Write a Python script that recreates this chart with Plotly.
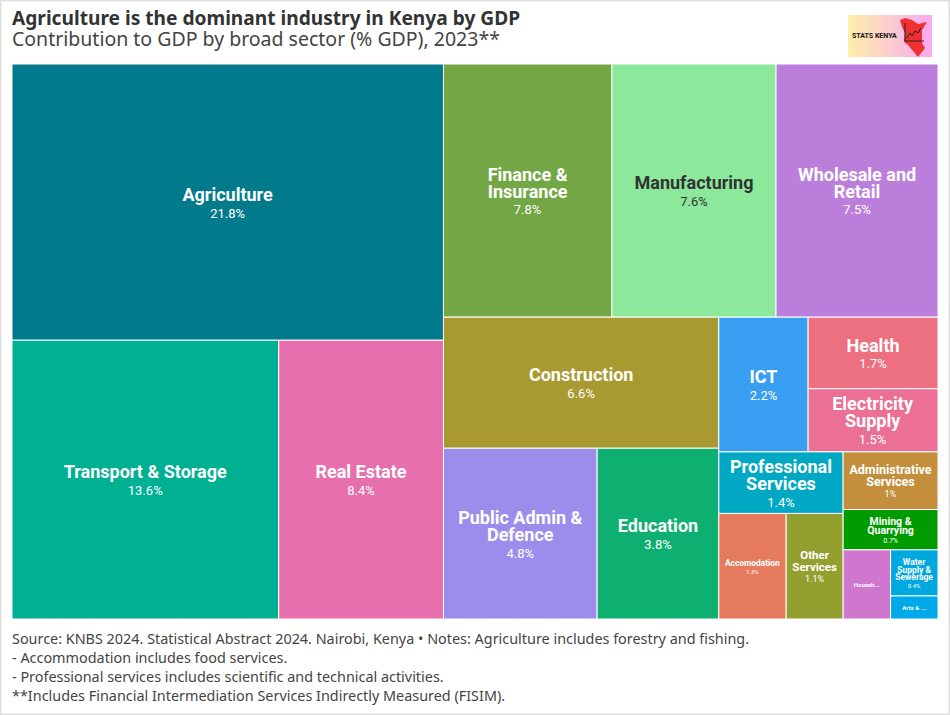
import plotly.graph_objects as go

W, H = 950, 715
L, T, R, B = 12, 64, 938, 619  # treemap box in the page

# ---- data ----
sectors = ["Agriculture", "Transport & Storage", "Real Estate", "Finance & Insurance", "Manufacturing",
           "Wholesale and Retail", "Construction", "Public Admin & Defence", "Education", "ICT", "Health",
           "Electricity Supply", "Professional Services", "Accomodation", "Other Services",
           "Administrative Services", "Mining & Quarrying", "Households", "Water Supply & Sewerage",
           "Arts & Entertainment"]
gdp_share = [21.8, 13.6, 8.4, 7.8, 7.6, 7.5, 6.6, 4.8, 3.8, 2.2, 1.7, 1.5, 1.4, 1.3, 1.1, 1.0, 0.7, 0.6, 0.4, 0.2]
shown_share = ["21.8%", "13.6%", "8.4%", "7.8%", "7.6%", "7.5%", "6.6%", "4.8%", "3.8%", "2.2%", "1.7%",
               "1.5%", "1.4%", "1.3%", "1.1%", "1%", "0.7%", "", "0.4%", ""]
shown_label = ["Agriculture", "Transport & Storage", "Real Estate", "Finance &<br>Insurance", "Manufacturing",
               "Wholesale and<br>Retail", "Construction", "Public Admin &<br>Defence", "Education", "ICT", "Health",
               "Electricity<br>Supply", "Professional<br>Services", "Accomodation", "Other<br>Services",
               "Administrative<br>Services", "Mining &<br>Quarrying", "Househ...", "Water<br>Supply &<br>Sewerage",
               "Arts & ..."]
colors = ["#017b8c", "#00b093", "#e76fad", "#73a644", "#8ce99c", "#bb7fdb", "#a89a30", "#9c8ded", "#0db070",
          "#379ef2", "#ec7080", "#ec6f95", "#00a8c4", "#e57a5c", "#93a030", "#c48f3c", "#009b00", "#cf76cf",
          "#00a8e0", "#00a8e8"]
label_sizes = [18, 18, 18, 18, 18, 18, 18, 18, 18, 18, 18, 18, 18, 8.4, 11.5, 12.5, 10.5, 6, 8.5, 6]
pct_sizes = [13, 13, 13, 13, 13, 13, 13, 13, 13, 13, 13, 13, 13, 6, 9, 9, 7, 6, 6, 6]
text_colors = ["#333333" if s == "Manufacturing" else "#ffffff" for s in sectors]

title = "Agriculture is the dominant industry in Kenya by GDP"
subtitle = "Contribution to GDP by broad sector (% GDP), 2023**"
footer = ["Source: KNBS 2024. Statistical Abstract 2024. Nairobi, Kenya • Notes: Agriculture includes forestry and fishing.",
          "- Accommodation includes food services.",
          "- Professional services includes scientific and technical activities.",
          "**Includes Financial Intermediation Services Indirectly Measured (FISIM)."]
footer_y = [638, 657, 676, 695]

LABEL_FONT = "Roboto, Arial, sans-serif"
TEXT_FONT = "'Noto Sans', 'Open Sans', sans-serif"

def cell_text(label, pct, ls):
    s = f'<b><span style="font-size:{ls}px">{label}</span></b>'
    return s + (f"<br>{pct}" if pct else "")

texts = [cell_text(a, b, c) for a, b, c in zip(shown_label, shown_share, label_sizes)]

fig = go.Figure(go.Treemap(
    labels=sectors,
    parents=[""] * len(sectors),
    values=gdp_share,
    text=texts,
    texttemplate="%{text}",
    hovertemplate="%{label}: %{value}%<extra></extra>",
    textposition="middle center",
    textfont=dict(family=LABEL_FONT, size=pct_sizes, color=text_colors),
    marker=dict(colors=colors, line=dict(color="#ffffff", width=1), pad=dict(t=0, l=0, r=0, b=0)),
    tiling=dict(packing="binary", pad=0),
    pathbar=dict(visible=False),
    sort=True,
    branchvalues="remainder",
    domain=dict(x=[0, 1], y=[0, 1]),
))

# page pixels -> paper fractions of the treemap box
def px(x): return (x - L) / (R - L)
def py(y): return 1 - (y - T) / (B - T)

annotations = [
    dict(text=f"<b>{title}</b>", x=px(12), y=py(18), xanchor="left", yanchor="middle",
         font=dict(family=TEXT_FONT, size=19.15, color="#333333")),
    dict(text=subtitle, x=px(12), y=py(38.5), xanchor="left", yanchor="middle",
         font=dict(family=TEXT_FONT, size=19.5, color="#444444")),
    dict(text="<b>STATS KENYA</b>", x=px(852), y=py(35.5), xanchor="left", yanchor="middle",
         font=dict(family=LABEL_FONT, size=7, color="#111111")),
]
for line, y in zip(footer, footer_y):
    annotations.append(dict(text=line, x=px(12), y=py(y), xanchor="left", yanchor="middle",
                            font=dict(family=TEXT_FONT, size=14.4, color="#444444")))
for a in annotations:
    a.update(xref="paper", yref="paper", showarrow=False, align="left", borderpad=0, borderwidth=0)

shapes = [dict(type="rect", xref="paper", yref="paper", x0=px(0.5), x1=px(949.5), y0=py(714.5), y1=py(0.5),
               line=dict(color="#dfdfdf", width=2), layer="below")]
# logo gradient
c0 = (253, 238, 170); c1 = (250, 170, 240)
n = 42
for i in range(n):
    t = i / (n - 1)
    col = "rgb(%d,%d,%d)" % tuple(round(a + (b - a) * t) for a, b in zip(c0, c1))
    shapes.append(dict(type="rect", xref="paper", yref="paper", x0=px(848 + 2 * i), x1=px(850 + 2 * i),
                       y0=py(57), y1=py(15), fillcolor=col, line=dict(width=0), layer="below"))

def path(pts, close=True):
    return "M " + " L ".join(f"{px(x):.5f},{py(y):.5f}" for x, y in pts) + (" Z" if close else "")

kenya = [(905, 18), (900, 20), (902, 27), (905, 33), (904, 42), (908, 45), (918, 57), (925, 48), (922, 43),
         (922, 30), (927, 22), (918, 24), (912, 20)]
shapes.append(dict(type="path", xref="paper", yref="paper", path=path(kenya), fillcolor="#f03030", line=dict(width=0)))
shapes.append(dict(type="path", xref="paper", yref="paper", path=path([(905, 23), (905, 41), (924, 41)], False),
                   line=dict(color="#222222", width=1)))
shapes.append(dict(type="path", xref="paper", yref="paper",
                   path=path([(907, 38), (910, 33), (912, 36), (915, 31), (918, 33), (921, 28)], False),
                   line=dict(color="#222222", width=1)))

fig.update_layout(
    width=W, height=H,
    margin=dict(t=T, b=H - B, l=L, r=W - R),
    paper_bgcolor="#ffffff",
    annotations=annotations,
    shapes=shapes,
    showlegend=False,
)
fig.write_html("out.html", config={"displayModeBar": False},
               post_script="document.body.style.margin='0';document.body.style.overflow='hidden';")
